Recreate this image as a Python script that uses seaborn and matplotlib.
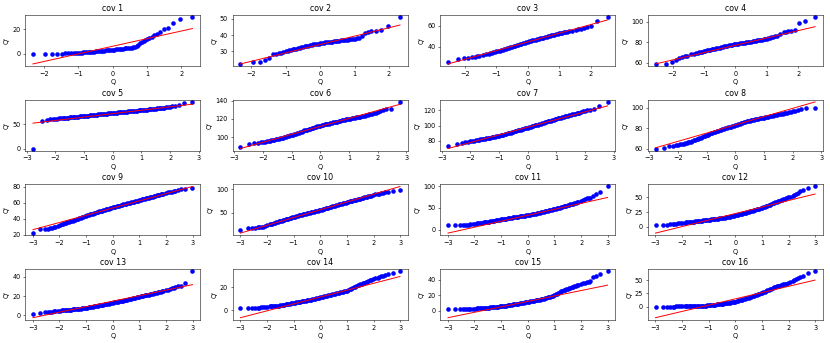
import matplotlib
matplotlib.use("Agg")
import matplotlib.pyplot as plt
import seaborn as sns

# Theoretical quantiles (Q) for the four sample sizes used in the panels
Q_A = [-2.32, -1.97, -1.76, -1.61, -1.49, -1.38, -1.29, -1.21, -1.14, -1.07, -1.01,
       -0.95, -0.9, -0.85, -0.8, -0.75, -0.7, -0.65, -0.6, -0.55, -0.5, -0.45, -0.4, -0.35,
       -0.3, -0.25, -0.2, -0.15, -0.1, -0.05, 0.0, 0.05, 0.1, 0.15, 0.2, 0.25, 0.3, 0.35,
       0.4, 0.45, 0.5, 0.55, 0.6, 0.65, 0.7, 0.75, 0.8, 0.85, 0.9, 0.95,
       1.01, 1.07, 1.14, 1.21, 1.29, 1.38, 1.49, 1.61, 1.76, 1.97, 2.32]
Q_B = [-2.54, -2.21, -2.03, -1.89, -1.78, -1.69, -1.61, -1.54, -1.42, -1.32,
       -1.25, -1.2, -1.15, -1.1, -1.05, -1.0, -0.95, -0.9, -0.85, -0.8, -0.75, -0.7, -0.65,
       -0.6, -0.55, -0.5, -0.45, -0.4, -0.35, -0.3, -0.25, -0.2, -0.15, -0.1, -0.05, 0.0,
       0.05, 0.1, 0.15, 0.2, 0.25, 0.3, 0.35, 0.4, 0.45, 0.5, 0.55, 0.6, 0.65, 0.7, 0.75,
       0.8, 0.85, 0.9, 0.95, 1.0, 1.05, 1.1, 1.15, 1.2, 1.25,
       1.32, 1.42, 1.54, 1.61, 1.69, 1.78, 1.89, 2.03, 2.21, 2.54]
Q_C = [-2.78, -2.47, -2.30, -2.18, -2.08, -2.00, -1.93, -1.87,
       -1.8, -1.75, -1.7, -1.65, -1.6, -1.55, -1.5, -1.45, -1.4, -1.35, -1.3, -1.25,
       -1.2, -1.15, -1.1, -1.05, -1.0, -0.95, -0.9, -0.85, -0.8, -0.75, -0.7, -0.65,
       -0.6, -0.55, -0.5, -0.45, -0.4, -0.35, -0.3, -0.25, -0.2, -0.15, -0.1, -0.05, 0.0,
       0.05, 0.1, 0.15, 0.2, 0.25, 0.3, 0.35, 0.4, 0.45, 0.5, 0.55, 0.6, 0.65, 0.7, 0.75,
       0.8, 0.85, 0.9, 0.95, 1.0, 1.05, 1.1, 1.15, 1.2, 1.25, 1.3, 1.35, 1.4, 1.45, 1.5,
       1.55, 1.6, 1.65, 1.7, 1.75, 1.8,
       1.87, 1.93, 2.00, 2.08, 2.18, 2.30, 2.47, 2.78]
Q_D = [-2.99, -2.71, -2.55, -2.44, -2.35, -2.28, -2.22, -2.16, -2.07, -1.99,
       -1.9, -1.85, -1.8, -1.75, -1.7, -1.65, -1.6, -1.55, -1.5, -1.45, -1.4, -1.35, -1.3,
       -1.25, -1.2, -1.15, -1.1, -1.05, -1.0, -0.95, -0.9, -0.85, -0.8, -0.75, -0.7, -0.65,
       -0.6, -0.55, -0.5, -0.45, -0.4, -0.35, -0.3, -0.25, -0.2, -0.15, -0.1, -0.05, 0.0,
       0.05, 0.1, 0.15, 0.2, 0.25, 0.3, 0.35, 0.4, 0.45, 0.5, 0.55, 0.6, 0.65, 0.7, 0.75,
       0.8, 0.85, 0.9, 0.95, 1.0, 1.05, 1.1, 1.15, 1.2, 1.25, 1.3, 1.35, 1.4, 1.45, 1.5,
       1.55, 1.6, 1.65, 1.7, 1.75, 1.8, 1.85, 1.9,
       1.99, 2.07, 2.16, 2.22, 2.28, 2.35, 2.44, 2.55, 2.71, 2.99]

# Ordered sample values (Q') per panel
COV1 = [0, 0, 0, 0.1, 0.2, 0.3, 0.4, 0.5, 0.6, 0.7, 0.8,
        0.9, 1.0, 1.1, 1.2, 1.3, 1.4, 1.5, 1.6, 1.75, 1.9, 2.05, 2.2, 2.35, 2.5, 2.65, 2.8, 2.9, 3.0, 3.15,
        3.3, 3.45, 3.6, 3.75, 3.9, 4.05, 4.2, 4.35, 4.5, 4.7, 4.9, 5.1, 5.4, 5.8, 6.5, 7.5, 8.5, 9.2, 10.0, 11.0,
        12.0, 13.0, 14.0, 15.2, 16.3, 17.5, 20.5, 20.6, 24.6, 27.9, 29.6]
COV2 = [22.0, 23.0, 23.1, 24.5, 25.6, 27.9, 28.2, 28.6, 29.0, 29.4, 29.8,
        30.3, 30.6, 30.85, 31.1, 31.35, 31.6, 31.85, 32.1, 32.35, 32.6, 32.85, 33.1, 33.35, 33.6, 33.85, 34.1,
        34.3, 34.5, 34.7, 34.9, 35.05, 35.2, 35.35, 35.5, 35.65, 35.8, 35.95, 36.1, 36.2, 36.3, 36.45, 36.6,
        36.75, 36.9, 37.05, 37.2, 37.35, 37.5, 37.6,
        37.7, 38.0, 38.3, 39.5, 41.0, 42.0, 42.2, 42.4, 43.1, 45.6, 51.0]
COV3 = [25.8, 28.1, 28.7, 29.2, 29.7, 30.2, 30.8, 31.3, 32.0, 32.6,
        33.1, 33.6, 34.05, 34.5, 35.0, 35.5, 35.9, 36.3, 36.75, 37.2, 37.6, 38.0, 38.45, 38.9, 39.3, 39.7,
        40.25, 40.8, 41.3, 41.8, 42.3, 42.8, 43.3, 43.8, 44.3, 44.8,
        45.2, 45.6, 46.0, 46.4, 46.8, 47.2, 47.6, 48.0, 48.35, 48.7, 49.1, 49.5, 49.9, 50.3, 50.65, 51.0,
        51.4, 51.8, 52.2, 52.6, 52.95, 53.3, 53.65, 54.0, 54.3,
        54.6, 55.3, 56.1, 56.7, 57.3, 58.0, 58.7, 59.7, 64.5, 68.0]
COV4 = [59.0, 59.0, 60.5, 63.0, 64.5, 65.5, 66.2, 66.8, 68.0, 68.8,
        69.2, 69.6, 70.0, 70.4, 70.8, 71.2, 71.6, 72.0, 72.35, 72.7, 73.05, 73.4, 73.75, 74.1, 74.45, 74.8,
        75.15, 75.5, 75.85, 76.2, 76.55, 76.9, 77.2, 77.5, 77.8, 78.1,
        78.35, 78.6, 78.85, 79.1, 79.35, 79.6, 79.85, 80.1, 80.35, 80.6, 80.9, 81.2, 81.5, 81.8, 82.1, 82.4,
        82.7, 83.0, 83.3, 83.6, 84.0, 84.4, 84.85, 85.3, 85.9,
        86.5, 88.5, 90.0, 90.5, 91.0, 91.5, 92.0, 98.7, 101.0, 104.5]
COV5 = [0.0, 56.3, 60.0, 60.8, 61.5, 62.0, 62.4, 62.8,
        63.0, 63.3, 63.6, 63.9, 64.2, 64.5, 64.8, 65.1, 65.4, 65.7, 66.0, 66.3, 66.6, 66.9, 67.2, 67.5,
        67.8, 68.1, 68.4, 68.7, 69.0, 69.3, 69.6, 69.9, 70.2, 70.5, 70.8, 71.1, 71.4, 71.7, 72.0, 72.3,
        72.6, 72.9, 73.2, 73.5, 73.8,
        74.1, 74.4, 74.7, 75.0, 75.3, 75.6, 75.9, 76.2, 76.5, 76.8, 77.1, 77.4, 77.7, 78.0, 78.3, 78.6,
        78.9, 79.2, 79.5, 79.8, 80.1, 80.4, 80.7, 81.0, 81.35, 81.7, 82.05, 82.4, 82.75, 83.1, 83.45, 83.8,
        84.15, 84.5, 84.85, 85.2,
        85.7, 86.2, 86.8, 87.5, 88.5, 90.5, 95.0, 97.0]
COV6 = [89.6, 92.2, 93.3, 93.6, 94.0, 94.5, 94.9, 95.2,
        95.6, 95.9, 96.2, 96.55, 96.9, 97.3, 97.7, 98.1, 98.5, 98.95, 99.4, 99.85, 100.3, 100.75, 101.2,
        101.7, 102.2, 102.75, 103.3, 103.85, 104.4, 104.95, 105.5, 106.05, 106.6, 107.15, 107.7, 108.2,
        108.7, 109.2, 109.7, 110.2, 110.7, 111.2, 111.7, 112.15, 112.6,
        113.0, 113.4, 113.75, 114.1, 114.45, 114.8, 115.2, 115.6, 115.95, 116.3, 116.65, 117.0, 117.4,
        117.8, 118.15, 118.5, 118.9, 119.3, 119.65, 120.0, 120.3, 120.6, 120.9, 121.2, 121.5, 121.8,
        122.1, 122.4, 122.7, 123.0, 123.4, 123.8, 124.25, 124.7, 125.15, 125.6,
        126.2, 126.8, 127.4, 128.2, 129.5, 131.0, 131.0, 138.5]
COV7 = [73.0, 75.7, 77.5, 78.2, 79.0, 79.6, 80.0, 80.4,
        80.9, 81.25, 81.6, 81.95, 82.3, 82.65, 83.0, 83.3, 83.6, 83.95, 84.3, 84.65, 85.0, 85.4, 85.8,
        86.3, 86.8, 87.3, 87.8, 88.3, 88.8, 89.3, 89.8, 90.3, 90.8, 91.35, 91.9, 92.45, 93.0, 93.55,
        94.1, 94.65, 95.2, 95.75, 96.3, 96.85, 97.4,
        97.95, 98.5, 99.05, 99.6, 100.15, 100.7, 101.25, 101.8, 102.35, 102.9, 103.5, 104.1, 104.7,
        105.3, 105.9, 106.5, 107.1, 107.7, 108.25, 108.8, 109.35, 109.9, 110.45, 111.0, 111.5, 112.0,
        112.5, 113.0, 113.5, 114.0, 114.5, 115.0, 115.5, 116.0, 116.5, 117.0,
        117.7, 118.4, 119.0, 119.8, 120.5, 121.5, 125.2, 130.9]
COV8 = [60.3, 61.0, 62.6, 63.0, 63.4, 63.8, 64.2, 64.6,
        65.0, 65.35, 65.7, 66.15, 66.6, 67.1, 67.6, 68.1, 68.6, 69.15, 69.7, 70.3, 70.9, 71.5, 72.1,
        72.7, 73.3, 73.85, 74.4, 74.9, 75.4, 75.9, 76.4, 76.9, 77.4, 77.85, 78.3, 78.8, 79.3, 79.8,
        80.3, 80.75, 81.2, 81.65, 82.1, 82.55, 83.0,
        83.45, 83.9, 84.35, 84.8, 85.25, 85.7, 86.15, 86.6, 87.0, 87.4, 87.7, 88.0, 88.3, 88.6, 88.9,
        89.2, 89.5, 89.8, 90.1, 90.4, 90.7, 91.0, 91.3, 91.6, 91.9, 92.2, 92.5, 92.8, 93.1, 93.4, 93.7,
        94.0, 94.3, 94.6, 94.95, 95.3,
        95.7, 96.1, 96.6, 97.0, 97.6, 98.3, 99.3, 100.0]
COV9 = [22.1, 27.0, 27.2, 27.6, 28.2, 28.8, 29.4, 30.0, 31.0, 32.0,
        33.0, 33.6, 34.2, 34.8, 35.4, 36.0, 36.6, 37.2, 37.8, 38.4, 39.0, 39.6, 40.2, 40.8, 41.4, 42.0,
        42.6, 43.2, 43.8, 44.35, 44.9, 45.45, 46.0, 46.55, 47.1, 47.65, 48.2, 48.75, 49.3, 49.8, 50.3,
        50.8, 51.3, 51.8, 52.3, 52.8, 53.3, 53.8, 54.3,
        54.75, 55.2, 55.65, 56.1, 56.55, 57.0, 57.45, 57.9, 58.35, 58.8, 59.25, 59.7, 60.15, 60.6, 61.05,
        61.5, 61.95, 62.4, 62.85, 63.3, 63.75, 64.2, 64.65, 65.1, 65.55, 66.0, 66.45, 66.9, 67.35, 67.8,
        68.25, 68.7, 69.15, 69.6, 70.05, 70.5, 70.95, 71.4,
        72.2, 72.9, 73.6, 74.1, 74.6, 75.2, 76.0, 76.8, 77.4, 78.7]
COV10 = [12.9, 17.9, 18.0, 18.5, 19.2, 19.8, 20.4, 21.0, 22.5, 24.0,
         25.6, 26.5, 27.4, 28.3, 29.2, 30.1, 31.0, 31.9, 32.8, 33.7, 34.6, 35.45, 36.3, 37.15, 38.0, 38.85,
         39.7, 40.55, 41.4, 42.2, 43.0, 43.8, 44.6, 45.4, 46.2, 47.0, 47.8, 48.6, 49.4, 50.1, 50.8, 51.5,
         52.2, 52.9, 53.6, 54.3, 55.0, 55.7, 56.4,
         57.25, 58.1, 58.95, 59.8, 60.65, 61.5, 62.35, 63.2, 64.05, 64.9, 65.7, 66.5, 67.3, 68.1, 68.9,
         69.7, 70.5, 71.3, 72.1, 72.9, 73.7, 74.5, 75.3, 76.1, 76.9, 77.7, 78.5, 79.3, 80.05, 80.8, 81.6,
         82.4, 83.2, 84.0, 84.8, 85.6, 86.4, 87.2,
         88.6, 89.5, 90.5, 91.2, 91.9, 92.7, 93.6, 95.0, 97.1, 98.6]
COV11 = [9.9, 9.9, 10.0, 10.3, 10.7, 11.1, 11.6, 12.1, 12.9, 13.7,
         14.5, 14.9, 15.3, 15.75, 16.2, 16.7, 17.2, 17.75, 18.3, 18.85, 19.4, 19.95, 20.5, 21.0, 21.5,
         22.05, 22.6, 23.15, 23.7, 24.25, 24.8, 25.3, 25.8, 26.35, 26.9, 27.4, 27.9, 28.45, 29.0, 29.45,
         29.9, 30.35, 30.8, 31.25, 31.7, 32.15, 32.6, 33.1, 33.6,
         34.2, 34.8, 35.4, 36.0, 36.6, 37.2, 37.8, 38.4, 39.05, 39.7, 40.45, 41.2, 41.95, 42.7, 43.45,
         44.2, 44.95, 45.7, 46.5, 47.3, 48.2, 49.1, 50.0, 50.9, 51.85, 52.8, 53.7, 54.6, 55.55, 56.5,
         57.4, 58.3, 59.2, 60.1, 61.0, 61.9, 62.8, 63.7,
         65.6, 67.5, 70.0, 71.8, 72.0, 72.2, 78.0, 81.5, 87.0, 99.2]
COV12 = [3.4, 4.0, 4.0, 4.5, 5.0, 5.3, 5.6, 6.0, 6.5, 6.9,
         7.4, 7.65, 7.9, 8.1, 8.3, 8.5, 8.7, 8.95, 9.2, 9.5, 9.8, 10.1, 10.4, 10.65, 10.9, 11.2, 11.5,
         11.8, 12.1, 12.4, 12.7, 12.95, 13.2, 13.5, 13.8, 14.05, 14.3, 14.6, 14.9, 15.3, 15.7, 16.15,
         16.6, 17.05, 17.5, 18.0, 18.5, 19.0, 19.5,
         20.05, 20.6, 21.15, 21.7, 22.25, 22.8, 23.4, 24.0, 24.65, 25.3, 25.95, 26.6, 27.3, 28.0, 28.7,
         29.4, 30.1, 30.8, 31.5, 32.2, 33.1, 34.0, 34.9, 35.8, 36.7, 37.6, 38.55, 39.5, 40.45, 41.4,
         42.2, 43.0, 43.8, 44.6, 45.4, 46.2, 47.0, 47.8,
         49.4, 50.5, 52.0, 53.2, 54.6, 56.5, 59.5, 62.0, 65.5, 67.8]
COV13 = [1.8, 2.5, 3.0, 3.3, 3.6, 3.8, 4.0, 4.2, 4.5, 4.9,
         5.1, 5.2, 5.3, 5.4, 5.5, 5.65, 5.8, 5.9, 6.0, 6.15, 6.3, 6.5, 6.7, 6.85, 7.0, 7.2, 7.4, 7.6,
         7.8, 8.05, 8.3, 8.55, 8.8, 9.0, 9.2, 9.45, 9.7, 9.95, 10.2, 10.5, 10.8, 11.1, 11.4, 11.65,
         11.9, 12.2, 12.5, 12.8, 13.1,
         13.4, 13.7, 13.95, 14.2, 14.5, 14.8, 15.05, 15.3, 15.6, 15.9, 16.25, 16.6, 16.95, 17.3, 17.65,
         18.0, 18.35, 18.7, 19.05, 19.4, 19.7, 20.0, 20.3, 20.6, 20.85, 21.1, 21.4, 21.7, 22.0, 22.3,
         22.7, 23.1, 23.45, 23.8, 24.2, 24.6, 24.95, 25.3,
         26.1, 26.6, 27.3, 27.8, 28.4, 29.2, 30.0, 30.8, 33.2, 45.9]
COV14 = [1.5, 1.8, 1.9, 2.0, 2.2, 2.3, 2.5, 2.7, 2.9, 3.1,
         3.3, 3.4, 3.5, 3.6, 3.7, 3.8, 3.9, 4.05, 4.2, 4.4, 4.6, 4.8, 5.0, 5.2, 5.4, 5.6, 5.8, 6.0,
         6.2, 6.45, 6.7, 6.9, 7.1, 7.35, 7.6, 7.8, 8.0, 8.25, 8.5, 8.75, 9.0, 9.25, 9.5, 9.8, 10.1,
         10.35, 10.6, 10.85, 11.1,
         11.4, 11.7, 11.95, 12.2, 12.5, 12.8, 13.05, 13.3, 13.6, 13.9, 14.2, 14.5, 14.8, 15.1, 15.4,
         15.7, 16.0, 16.3, 16.6, 16.9, 17.45, 18.0, 18.6, 19.2, 19.8, 20.4, 20.95, 21.5, 22.05, 22.6,
         23.05, 23.5, 23.95, 24.4, 24.85, 25.3, 25.75, 26.2,
         27.0, 27.5, 28.1, 28.6, 29.2, 29.8, 30.5, 31.2, 31.9, 33.9]
COV15 = [1.7, 1.7, 1.8, 1.9, 2.0, 2.1, 2.2, 2.3, 2.4, 2.6,
         2.8, 2.9, 3.0, 3.1, 3.2, 3.35, 3.5, 3.7, 3.9, 4.05, 4.2, 4.35, 4.5, 4.7, 4.9, 5.05, 5.2, 5.4,
         5.6, 5.85, 6.1, 6.35, 6.6, 6.9, 7.2, 7.45, 7.7, 7.95, 8.2, 8.5, 8.8, 9.1, 9.4, 9.7, 10.0,
         10.3, 10.6, 10.9, 11.2,
         11.55, 11.9, 12.25, 12.6, 12.95, 13.3, 13.65, 14.0, 14.35, 14.7, 15.15, 15.6, 16.1, 16.6, 17.1,
         17.6, 18.15, 18.7, 19.25, 19.8, 20.9, 22.0, 23.05, 24.1, 24.8, 25.5, 26.25, 27.0, 27.7, 28.4,
         29.05, 29.7, 30.35, 31.0, 31.65, 32.3, 32.95, 33.6,
         34.9, 35.4, 36.0, 36.4, 36.9, 37.5, 43.1, 44.0, 47.0, 50.9]
COV16 = [0.0, 0.1, 0.2, 0.2, 0.3, 0.3, 0.4, 0.4, 0.5, 0.6,
         0.7, 0.75, 0.8, 0.85, 0.9, 0.95, 1.0, 1.1, 1.2, 1.3, 1.4, 1.5, 1.6, 1.75, 1.9, 2.05, 2.2, 2.35,
         2.5, 2.75, 3.0, 3.3, 3.6, 3.9, 4.2, 4.55, 4.9, 5.25, 5.6, 5.95, 6.3, 6.65, 7.0, 7.4, 7.8,
         8.2, 8.6, 9.0, 9.4,
         10.15, 10.9, 11.65, 12.4, 13.15, 13.9, 14.65, 15.4, 16.15, 16.9, 17.85, 18.8, 19.7, 20.6, 21.5,
         22.4, 23.35, 24.3, 25.25, 26.2, 27.35, 28.5, 29.6, 30.7, 31.8, 32.9, 34.05, 35.2, 36.35, 37.5,
         38.25, 39.0, 39.75, 40.5, 41.25, 42.0, 42.75, 43.5,
         45.0, 46.5, 48.5, 49.8, 51.3, 53.0, 55.5, 58.0, 62.5, 66.9]

# Least-squares reference line: value at the lowest and highest Q of each panel
LINE_LO = [-8.2, 22.0, 23.5, 58.7, 52.8, 87.4, 70.0, 61.0, 26.4, 7.1, -7.6, -10.3, -2.5, -6.5, -9.0, -20.6]
LINE_HI = [20.5, 46.2, 65.5, 95.3, 92.3, 135.9, 125.7, 105.6, 80.4, 106.4, 74.0, 55.2, 31.8, 29.2, 32.8, 50.0]

# Y tick labels shown in each panel
YTICKS = [[0, 20], [30, 40, 50], [40, 60], [60, 80, 100],
          [0, 50], [100, 120, 140], [80, 100, 120], [60, 80, 100],
          [20, 40, 60, 80], [50, 100], [0, 50, 100], [0, 25, 50],
          [0, 20, 40], [0, 20], [0, 20, 40], [0, 25, 50]]

TITLES = ["cov 1", "cov 2", "cov 3", "cov 4", "cov 5", "cov 6", "cov 7", "cov 8",
          "cov 9", "cov 10", "cov 11", "cov 12", "cov 13", "cov 14", "cov 15", "cov 16"]

SAMPLES = [COV1, COV2, COV3, COV4, COV5, COV6, COV7, COV8,
           COV9, COV10, COV11, COV12, COV13, COV14, COV15, COV16]
QGRID = [Q_A, Q_A, Q_B, Q_B] + [Q_C] * 4 + [Q_D] * 8

DPI = 47
fig, axes = plt.subplots(4, 4, figsize=(830 / DPI, 343 / DPI), dpi=DPI)

for i, ax in enumerate(axes.flat):
    q = QGRID[i]
    y = SAMPLES[i]
    assert len(q) == len(y), (TITLES[i], len(q), len(y))
    sns.scatterplot(x=q, y=y, ax=ax, color="blue", s=49, linewidth=0, marker="o")
    sns.lineplot(x=[q[0], q[-1]], y=[LINE_LO[i], LINE_HI[i]], ax=ax, color="red", linewidth=1.5)
    ax.set_yticks(YTICKS[i])
    ax.set_title(TITLES[i])
    ax.set_xlabel("Q")
    ax.set_ylabel("Q'")

fig.subplots_adjust(left=25 / 830, right=823 / 830, top=1 - 15 / 343, bottom=1 - 320 / 343,
                    wspace=0.183, hspace=0.65)
fig.savefig("out.png", dpi=DPI)
